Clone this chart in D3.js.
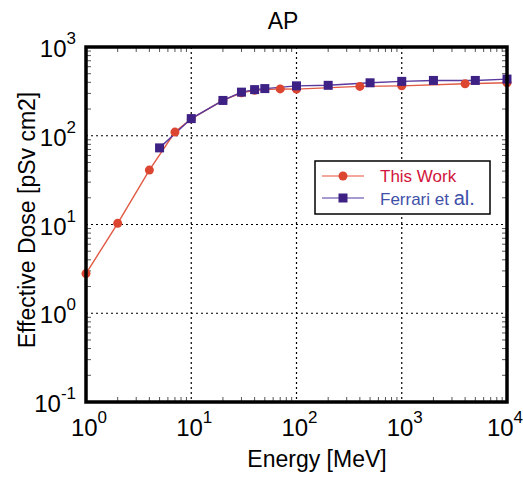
<!DOCTYPE html>
<html>
<head>
<meta charset="utf-8">
<script src="https://cdn.jsdelivr.net/npm/d3@7"></script>
<style>
  body { margin: 0; background: #fff; }
  text { font-family: "Liberation Sans", Arial, sans-serif; }
</style>
</head>
<body>
<div id="chart"></div>
<script>
// energies and doses
var workEnergy = [1, 2, 4, 7, 10, 20, 30, 40, 70, 100, 400, 1000, 4000, 10000];
var workDose   = [2.8, 10.3, 41, 110, 155, 250, 305, 325, 337, 335, 360, 365, 385, 395];
var ferrariEnergy = [5, 10, 20, 30, 40, 50, 100, 200, 500, 1000, 2000, 5000, 10000];
var ferrariDose   = [73, 156, 250, 310, 331, 340, 365, 370, 395, 410, 420, 420, 435];
var xTickExp = [0, 1, 2, 3, 4];
var yTickExp = [-1, 0, 1, 2, 3];
var legendNames = ["This Work", "Ferrari et al."];

var width = 523, height = 479;
var plotL = 86, plotR = 507, plotT = 47, plotB = 402;

var svg = d3.select("#chart").append("svg")
    .attr("width", width)
    .attr("height", height);

var x = d3.scaleLog().domain([1, 1e4]).range([plotL, plotR]);
var y = d3.scaleLog().domain([0.1, 1000]).range([plotB, plotT]);

//minor ticks, inside on all four sides
var minorX = [], minorY = [];
for (var e = 0; e < 4; e++) {
    for (var m = 2; m < 10; m++) minorX.push(m * Math.pow(10, e));
}
for (var e = -1; e < 3; e++) {
    for (var m = 2; m < 10; m++) minorY.push(m * Math.pow(10, e));
}

var ticks = svg.append("g").attr("stroke", "#555").attr("stroke-width", 1);
minorX.forEach(function(v){
    ticks.append("line").attr("x1", x(v)).attr("x2", x(v)).attr("y1", plotB).attr("y2", plotB - 5);
    ticks.append("line").attr("x1", x(v)).attr("x2", x(v)).attr("y1", plotT).attr("y2", plotT + 5);
});
minorY.forEach(function(v){
    ticks.append("line").attr("y1", y(v)).attr("y2", y(v)).attr("x1", plotL).attr("x2", plotL + 5);
    ticks.append("line").attr("y1", y(v)).attr("y2", y(v)).attr("x1", plotR).attr("x2", plotR - 5);
});

//dotted grid at the decades
var grid = svg.append("g").attr("stroke", "#000").attr("stroke-width", 1.2).attr("stroke-dasharray", "2,3");
xTickExp.slice(1, -1).forEach(function(p){
    grid.append("line").attr("x1", x(Math.pow(10, p))).attr("x2", x(Math.pow(10, p))).attr("y1", plotT).attr("y2", plotB);
});
yTickExp.slice(1, -1).forEach(function(p){
    grid.append("line").attr("y1", y(Math.pow(10, p))).attr("y2", y(Math.pow(10, p))).attr("x1", plotL).attr("x2", plotR);
});

//tick labels as 10 with superscript
xTickExp.forEach(function(p, i){
    var t = svg.append("text")
        .attr("x", x(Math.pow(10, p)) + (i == xTickExp.length - 1 ? -2 : 3))
        .attr("y", 436)
        .attr("text-anchor", "middle")
        .attr("font-size", 24);
    t.append("tspan").text("10");
    t.append("tspan").attr("dy", -13).attr("font-size", 17).text(p);
});
yTickExp.forEach(function(p){
    var t = svg.append("text")
        .attr("x", 76)
        .attr("y", y(Math.pow(10, p)) + 10)
        .attr("text-anchor", "end")
        .attr("font-size", 24);
    t.append("tspan").text("10");
    t.append("tspan").attr("dy", -13).attr("font-size", 17).text(p == -1 ? "-1" : p);
});

//series
var line = d3.line()
    .x(function(d){ return x(d[0]); })
    .y(function(d){ return y(d[1]); });

var workData = d3.zip(workEnergy, workDose);
var ferrariData = d3.zip(ferrariEnergy, ferrariDose);

svg.append("path").datum(workData)
    .attr("d", line).attr("fill", "none")
    .attr("stroke", "#e05a44").attr("stroke-width", 1.4);
svg.append("path").datum(ferrariData)
    .attr("d", line).attr("fill", "none")
    .attr("stroke", "#5a3a9e").attr("stroke-width", 1.4);

svg.selectAll(".work").data(workData).enter()
    .append("circle")
    .attr("cx", function(d){ return x(d[0]); })
    .attr("cy", function(d){ return y(d[1]); })
    .attr("r", 4.5)
    .attr("fill", "#dc4530");

svg.selectAll(".ferrari").data(ferrariData).enter()
    .append("rect")
    .attr("x", function(d){ return x(d[0]) - 4.5; })
    .attr("y", function(d){ return y(d[1]) - 4.5; })
    .attr("width", 9).attr("height", 9)
    .attr("fill", "#3e2185");

//frame
svg.append("rect")
    .attr("x", plotL).attr("y", plotT)
    .attr("width", plotR - plotL).attr("height", plotB - plotT)
    .attr("fill", "none").attr("stroke", "#000").attr("stroke-width", 3.5);

//legend
var leg = svg.append("g");
leg.append("rect")
    .attr("x", 315).attr("y", 161).attr("width", 175).attr("height", 53)
    .attr("fill", "#fff").attr("stroke", "#000").attr("stroke-width", 1.5);
leg.append("line").attr("x1", 322).attr("x2", 364).attr("y1", 176).attr("y2", 176)
    .attr("stroke", "#ee8a78").attr("stroke-width", 1.5);
leg.append("circle").attr("cx", 343).attr("cy", 176).attr("r", 4.5).attr("fill", "#dc4530");
leg.append("line").attr("x1", 322).attr("x2", 364).attr("y1", 198).attr("y2", 198)
    .attr("stroke", "#8a78c0").attr("stroke-width", 1.5);
leg.append("rect").attr("x", 338.5).attr("y", 193.5).attr("width", 9).attr("height", 9).attr("fill", "#3e2185");
leg.append("text").attr("x", 380).attr("y", 182).attr("font-size", 17)
    .attr("fill", "#d2143c").text(legendNames[0]);
var ft = leg.append("text").attr("x", 380).attr("y", 205).attr("font-size", 17)
    .attr("fill", "#4050a8");
ft.append("tspan").text("Ferrari et ");
ft.append("tspan").attr("font-size", 20).text("al.");

//titles
svg.append("text").attr("x", 283).attr("y", 29).attr("text-anchor", "middle")
    .attr("font-size", 23).text("AP");
svg.append("text").attr("x", 317).attr("y", 467).attr("text-anchor", "middle")
    .attr("font-size", 23).text("Energy [MeV]");
svg.append("text")
    .attr("transform", "translate(35,220) rotate(-90)")
    .attr("text-anchor", "middle")
    .attr("font-size", 23).text("Effective Dose [pSv cm2]");
</script>
</body>
</html>
